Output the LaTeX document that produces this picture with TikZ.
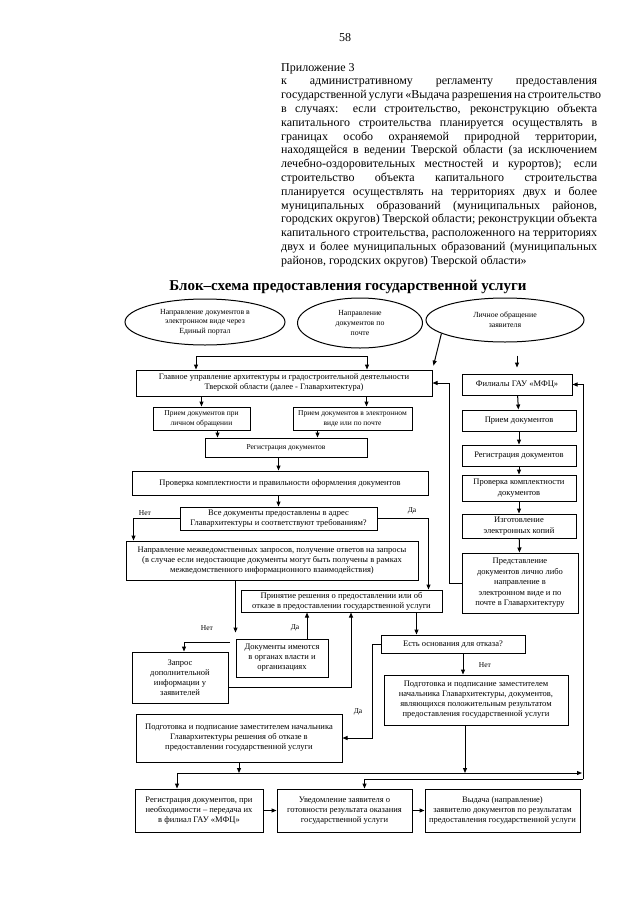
\documentclass[tikz,border=0pt]{standalone}
\usepackage{fontspec}
\setmainfont{Liberation Serif}
\usetikzlibrary{arrows.meta,shapes.geometric}

\begin{document}
\begin{tikzpicture}
	[	x=1pt,y=-1pt,
	box/.style={rectangle,draw=black,line width=1pt,align=center,inner sep=1pt,font=\fontsize{8.5}{10}\selectfont},
	smallbox/.style={box,font=\fontsize{7.5}{9.8}\selectfont},
	colbox/.style={box,minimum width=114pt,font=\fontsize{8.5}{10.5}\selectfont},
	oval/.style={ellipse,draw=black,line width=1pt,align=center,inner sep=0pt,font=\fontsize{7.8}{9.7}\selectfont},
	plain/.style={draw=none,fill=none,font=\fontsize{7.5}{9}\selectfont},
	arr/.style={-{Triangle[length=5pt,width=4pt]},line width=1pt},
	line/.style={line width=1pt}
	]
	\useasboundingbox (0,0) rectangle (640,905);
	% page head
	\node[font=\fontsize{12}{14}\selectfont] (pnum) at (345,38) {58};
	\node[anchor=north west,inner sep=0pt,text width=316pt,align=justify,font=\fontsize{12}{13.8}\selectfont] (head) at (281,63) {Приложение 3\\
\makebox[316pt][s]{к административному регламенту предоставления}\\
\makebox[316pt][s]{государственной услуги «Выдача разрешения на строительство}\\
\makebox[316pt][s]{в случаях: если строительство, реконструкцию объекта}\\
\makebox[316pt][s]{капитального строительства планируется осуществлять в}\\
\makebox[316pt][s]{границах особо охраняемой природной территории,}\\
\makebox[316pt][s]{находящейся в ведении Тверской области (за исключением}\\
\makebox[316pt][s]{лечебно-оздоровительных местностей и курортов); если}\\
\makebox[316pt][s]{строительство объекта капитального строительства}\\
\makebox[316pt][s]{планируется осуществлять на территориях двух и более}\\
\makebox[316pt][s]{муниципальных образований (муниципальных районов,}\\
\makebox[316pt][s]{городских округов) Тверской области; реконструкции объекта}\\
\makebox[316pt][s]{капитального строительства, расположенного на территориях}\\
\makebox[316pt][s]{двух и более муниципальных образований (муниципальных}\\
районов, городских округов) Тверской области»};
	\node[font=\bfseries\fontsize{15}{17}\selectfont] (title) at (348,287) {Блок–схема предоставления государственной услуги};
	% ways of applying
	\node[oval,minimum width=160pt,minimum height=46pt] (portal) at (205,322) {Направление документов в\\электронном виде через\\Единый портал};
	\node[oval,minimum width=125pt,minimum height=50pt] (post) at (360,323) {Направление\\документов по\\почте};
	\node[oval,minimum width=158pt,minimum height=44pt] (visit) at (505,320) {Личное обращение\\заявителя};
	% Glavarhitektura
	\node[box,minimum width=296pt,minimum height=26pt] (glav) at (284,383) {Главное управление архитектуры и градостроительной деятельности\\Тверской области (далее - Главархитектура)};
	\node[smallbox,minimum width=97pt,minimum height=23pt] (priemL) at (201.5,418.5) {Прием документов при\\личном обращении};
	\node[smallbox,minimum width=119pt,minimum height=23pt] (priemE) at (352.5,418.5) {Прием документов в электронном\\виде или по почте};
	\node[smallbox,minimum width=162pt,minimum height=19pt] (regL) at (286,447.5) {Регистрация документов};
	\node[box,minimum width=296pt,minimum height=24pt] (provL) at (280,483) {Проверка комплектности и правильности оформления документов};
	\node[box,minimum width=197pt,minimum height=23pt] (vse) at (278.5,518.5) {Все документы предоставлены в адрес\\Главархитектуры и соответствуют требованиям?};
	\node[box,minimum width=292pt,minimum height=39pt] (napr) at (272,560.5) {Направление межведомственных запросов, получение ответов на запросы\\(в случае если недостающие документы могут быть получены в рамках\\межведомственного информационного взаимодействия)};
	\node[box,minimum width=201pt,minimum height=22pt] (prin) at (341.5,601) {Принятие решения о предоставлении или об\\отказе в предоставлении государственной услуги};
	\node[box,minimum width=92pt,minimum height=38pt] (dok) at (282,658) {Документы имеются\\в органах власти и\\организациях};
	\node[box,minimum width=96pt,minimum height=51pt] (zapr) at (180,677.5) {Запрос\\дополнительной\\информации у\\заявителей};
	\node[box,minimum width=144pt,minimum height=18pt] (est) at (453,644) {Есть основания для отказа?};
	\node[box,minimum width=184pt,minimum height=50pt] (podgP) at (476,700) {Подготовка и подписание заместителем\\начальника Главархитектуры, документов,\\являющихся положительным результатом\\предоставления государственной услуги};
	\node[box,minimum width=206pt,minimum height=48pt] (podgO) at (239,738) {Подготовка и подписание заместителем начальника\\Главархитектуры решения об отказе в\\предоставлении государственной услуги};
	% results
	\node[box,minimum width=128pt,minimum height=43pt] (regB) at (199,810.5) {Регистрация документов, при\\необходимости – передача их\\в филиал ГАУ «МФЦ»};
	\node[box,minimum width=135pt,minimum height=43pt] (uved) at (344.5,810.5) {Уведомление заявителя о\\готовности результата оказания\\государственной услуги};
	\node[box,minimum width=155pt,minimum height=43pt] (vyd) at (502.5,810.5) {Выдача (направление)\\заявителю документов по результатам\\предоставления государственной услуги};
	% MFC column
	\node[colbox,minimum width=110pt,minimum height=21pt] (fil) at (517,384.5) {Филиалы ГАУ «МФЦ»};
	\node[colbox,minimum height=21pt] (priemR) at (519,420.5) {Прием документов};
	\node[colbox,minimum height=21pt] (regR) at (519,455.5) {Регистрация документов};
	\node[colbox,minimum height=26pt] (provR) at (519,488) {Проверка комплектности\\документов};
	\node[colbox,minimum height=24pt] (izg) at (519,526) {Изготовление\\электронных копий};
	\node[colbox,minimum width=116pt,minimum height=60pt] (pred) at (520,583) {Представление\\документов лично либо\\направление в\\электронном виде и по\\почте в Главархитектуру};
	% yes / no
	\node[plain] (no1) at (145,513) {Нет};
	\node[plain] (yes1) at (412,511) {Да};
	\node[plain] (no2) at (207,628) {Нет};
	\node[plain] (yes2) at (295,628) {Да};
	\node[plain] (yes3) at (358,712) {Да};
	\node[plain] (no3) at (485,665) {Нет};
	% connectors
	\coordinate (jl) at (196,356);
	\coordinate (jr) at (367,356);
	\draw[line] (jl) -- (jr);
	\draw[arr] (jl) -- (jl |- glav.north);
	\draw[arr] (jr) -- (jr |- glav.north);
	\draw[arr,shorten >=4pt] (visit.192) -- (glav.north east);
	\draw[arr,shorten <=13pt,shorten >=6pt] (visit.south -| fil.north) -- (fil.north);
	\draw[arr] (glav.south -| priemL.north) -- (priemL.north);
	\draw[arr] ([xshift=14pt]priemE.north |- glav.south) -- ([xshift=14pt]priemE.north);
	\draw[arr] ([xshift=16pt]priemL.south) -- ([xshift=16pt]priemL.south |- regL.north);
	\draw[arr] ([xshift=-35pt]priemE.south) -- ([xshift=-35pt]priemE.south |- regL.north);
	\draw[arr] (regL.south -| vse.north) -- (vse.north |- provL.north);
	\draw[arr] (provL.south -| vse.north) -- (vse.north);
	\draw[arr] (vse.west) -| ([xshift=8pt]napr.north west);
	\draw[arr] (vse.east) -| ([xshift=-14pt]prin.north east);
	\draw[arr,shorten >=6pt] (napr.south -| dok.north west) -- (dok.north west);
	\draw[arr] ([xshift=25pt]dok.north) -- ([xshift=25pt]dok.north |- prin.south);
	\draw[arr] ([shift={(-6,-16)}]dok.west) -| ([xshift=4pt]zapr.north);
	\draw[arr] ([yshift=-10pt]zapr.east) -| ([xshift=9.5pt]prin.south);
	\draw[arr] ([xshift=75pt]prin.south) -- ([xshift=75pt]prin.south |- est.north);
	\draw[arr] (est.west) -- ++(-8,0) |- (podgO.east);
	\draw[arr] ([xshift=10pt]est.south) -- ([xshift=10pt]est.south |- podgP.north);
	\coordinate (dlw) at (177,773);
	\coordinate (dle) at (582,773);
	\coordinate (rl) at (583,779);
	\draw[arr] (podgO.south) -- (podgO.south |- dlw);
	\draw[arr] ([xshift=-11pt]podgP.south) -- ([xshift=-11pt]podgP.south |- dlw);
	\draw[arr] (dlw) -- (dle);
	\draw[arr] (dlw) -- (dlw |- regB.north);
	\draw[arr] (rl) |- (fil.east);
	\draw[arr] (rl) -| ([xshift=20pt]uved.north);
	\draw[arr] (pred.west) -- ++(-12,0) |- (glav.east);
	\draw[arr] (fil) -- (priemR);
	\draw[arr] (priemR) -- (regR);
	\draw[arr] (regR) -- (provR);
	\draw[arr] (provR) -- (izg);
	\draw[arr] (izg) -- (pred);
	\draw[arr] (regB) -- (uved);
	\draw[arr] (uved) -- (vyd);
\end{tikzpicture}
\end{document}
